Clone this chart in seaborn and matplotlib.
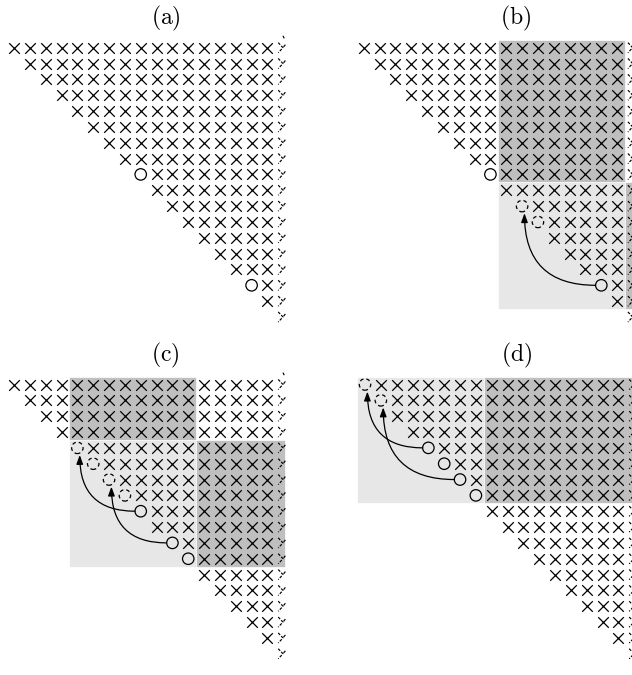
import matplotlib
matplotlib.use("Agg")
import matplotlib.pyplot as plt
import seaborn as sns
import pandas as pd
from matplotlib.patches import Rectangle

sns.set_theme(style="white")
plt.rcParams["mathtext.fontset"] = "cm"

W, H = 632, 675          # figure size in pixels
STEP = 15.84             # pixels between neighbouring cells

LAST_COL = 16            # last whole column of the matrix
TORN_COL = 17            # column cut by the torn edge

panel_labels = ["(a)", "(b)", "(c)", "(d)"]

# solid circles on the diagonal, (row, col)
solid = {
    "(a)": [(8, 8), (15, 15)],
    "(b)": [(8, 8), (15, 15)],
    "(c)": [(8, 8), (10, 10), (11, 11)],
    "(d)": [(4, 4), (5, 5), (6, 6), (7, 7)],
}
# dashed circles: positions the pivots move to
dashed = {
    "(a)": [],
    "(b)": [(10, 10), (11, 11)],
    "(c)": [(4, 4), (5, 5), (6, 6), (7, 7)],
    "(d)": [(0, 0), (1, 1)],
}
# moves: (from cell, to cell)
moves = {
    "(a)": [],
    "(b)": [((15, 15), (10, 10))],
    "(c)": [((8, 8), (4, 4)), ((10, 10), (6, 6))],
    "(d)": [((4, 4), (0, 0)), ((6, 6), (1, 1))],
}
# shaded blocks: (first row, last row, first col, last col)
dark_blocks = {
    "(a)": [],
    "(b)": [(0, 8, 9, 16), (9, 16, 17, 17)],
    "(c)": [(0, 3, 4, 11), (4, 11, 12, 17)],
    "(d)": [(0, 7, 8, 17)],
}
light_blocks = {
    "(a)": [],
    "(b)": [(9, 16, 9, 16)],
    "(c)": [(4, 11, 4, 11)],
    "(d)": [(0, 7, 0, 7)],
}

# layout: pixel of cell (0, 0) and the pixel box of each panel
panel_origin = {"(a)": (14, 47.7), "(b)": (363.7, 47.7),
                "(c)": (14, 384.5), "(d)": (365.0, 384.5)}
panel_box = {"(a)": (0, 0, 316, 330), "(b)": (316, 0, 632, 330),
             "(c)": (0, 330, 316, 675), "(d)": (316, 330, 632, 675)}
title_row = -1.82
title_col = 9.58

DARK = "#bfbfbf"
LIGHT = "#e7e7e7"

fig = plt.figure(figsize=(W / 100, H / 100), dpi=100)

for lab in panel_labels:
    ox, oy = panel_origin[lab]
    L, T, R, B = panel_box[lab]
    ax = fig.add_axes([L / W, 1 - B / H, (R - L) / W, (B - T) / H])
    ax.set_axis_off()
    ax.patch.set_alpha(0)

    # shaded blocks
    for blocks, col in ((light_blocks[lab], LIGHT), (dark_blocks[lab], DARK)):
        for r0, r1, c0, c1 in blocks:
            x0 = c0 - 0.5
            x1 = c1 + 0.5 if c1 < TORN_COL else TORN_COL + 0.1
            ax.add_patch(Rectangle((x0, r0 - 0.5), x1 - x0, r1 - r0 + 1,
                                   facecolor=col, edgecolor="white",
                                   linewidth=0.5, zorder=0))

    special = set(solid[lab]) | set(dashed[lab])
    cells = [(r, c) for r in range(LAST_COL + 1)
             for c in range(r, LAST_COL + 1) if (r, c) not in special]
    crosses = pd.DataFrame(cells, columns=["row", "col"])
    sns.scatterplot(data=crosses, x="col", y="row", marker="x", s=58,
                    color="black", linewidth=0.9, ax=ax, zorder=3)

    if solid[lab]:
        df = pd.DataFrame(solid[lab], columns=["row", "col"])
        sns.scatterplot(data=df, x="col", y="row", marker="o", s=68,
                        color="black", facecolor="none", edgecolor="black",
                        linewidth=0.9, ax=ax, zorder=3)
    if dashed[lab]:
        df = pd.DataFrame(dashed[lab], columns=["row", "col"])
        sns.scatterplot(data=df, x="col", y="row", marker="o", s=68,
                        color="black", facecolor="none", edgecolor="black",
                        linewidth=0.9, linestyle=(0.5, (3.0, 2.4)),
                        ax=ax, zorder=3)

    # torn right edge: ragged half crosses in the cut column
    xs, ys = [], []
    for r in range(TORN_COL + 1):
        xs += [TORN_COL - 0.32, TORN_COL - 0.02, TORN_COL - 0.32, None,
               TORN_COL + 0.02, TORN_COL + 0.14, None]
        ys += [r - 0.32, r, r + 0.32, None, r - 0.05, r - 0.2, None]
    xs += [TORN_COL - 0.02, TORN_COL + 0.08]
    ys += [-0.75, -0.55]
    ax.plot(xs, ys, color="black", lw=0.85, linestyle=(0, (2.4, 1.3)), zorder=3)

    # pivot moves
    for (sr, sc), (tr, tc) in moves[lab]:
        ax.annotate("", xy=(tc + 0.15, tr + 0.45), xytext=(sc - 0.36, sr),
                    arrowprops=dict(arrowstyle="-|>,head_length=0.6,head_width=0.22",
                                    color="black", lw=0.9,
                                    mutation_scale=9, shrinkA=0, shrinkB=0,
                                    connectionstyle="angle3,angleA=0,angleB=90"),
                    zorder=4)

    ax.text(title_col, title_row, r"$\mathrm{" + lab + "}$", fontsize=17,
            ha="center", va="center", color="black")

    ax.set_xlim((L - ox) / STEP, (R - ox) / STEP)
    ax.set_ylim((B - oy) / STEP, (T - oy) / STEP)

fig.savefig("out.png", dpi=100)
